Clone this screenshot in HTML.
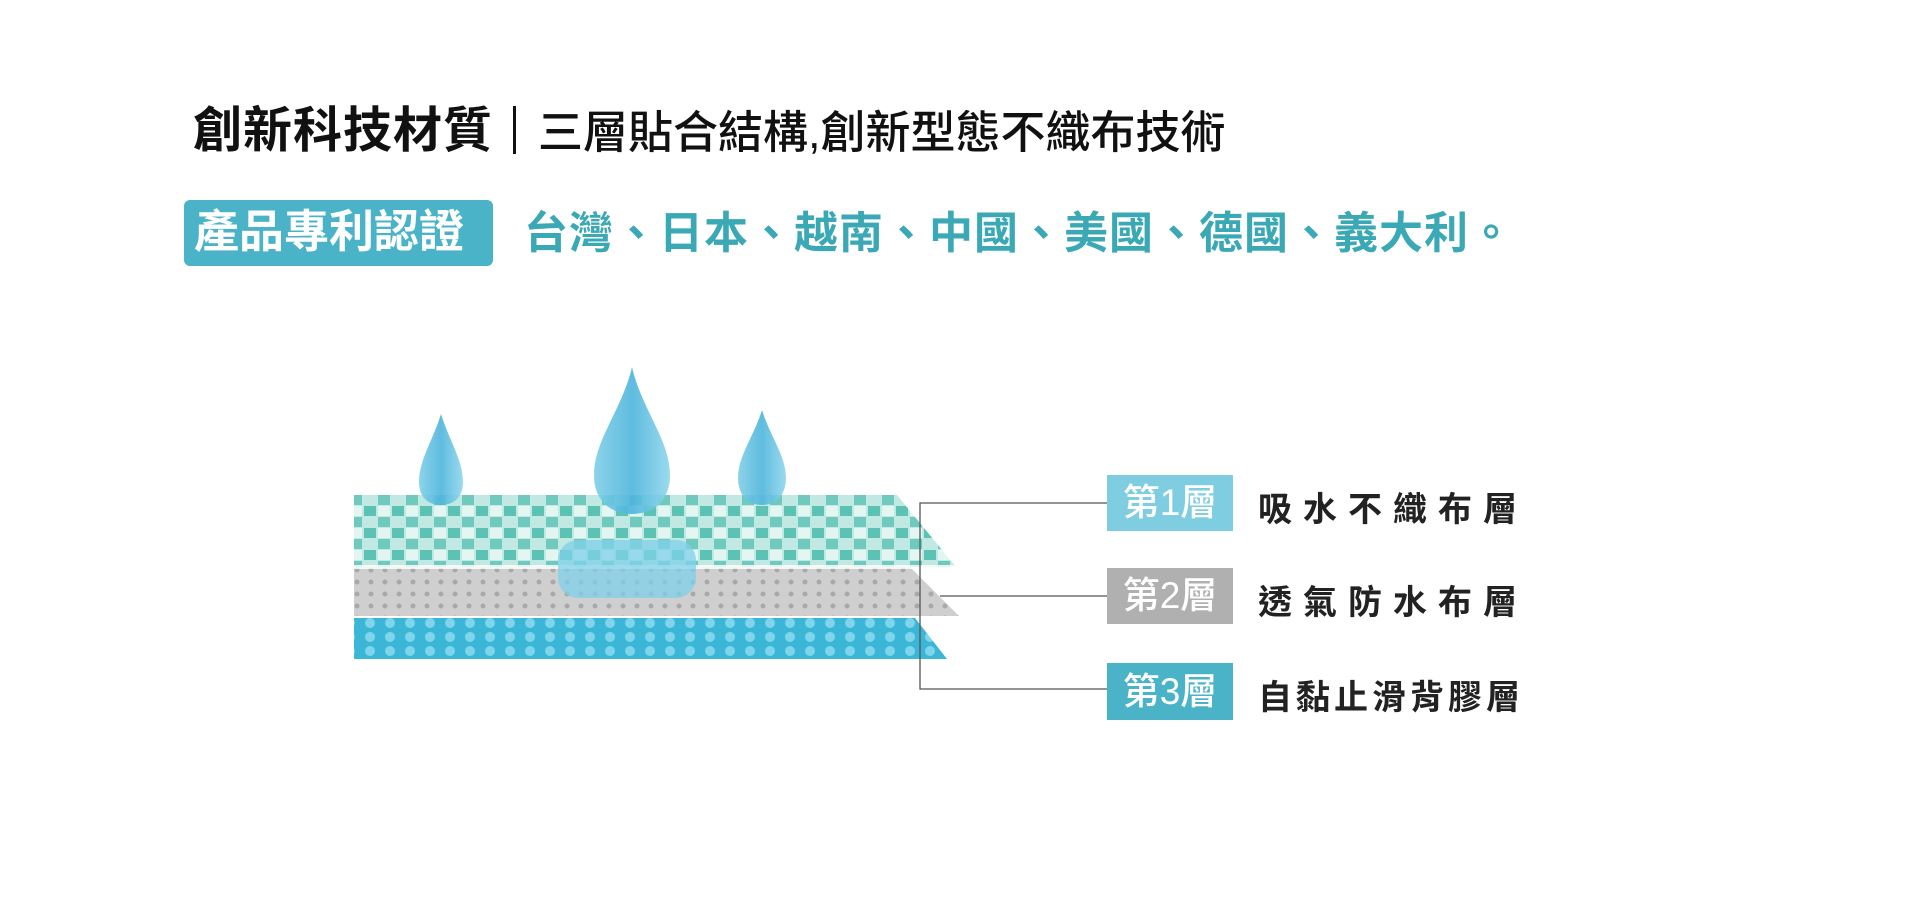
<!DOCTYPE html>
<html><head><meta charset="utf-8"><style>
body{margin:0;width:1920px;height:900px;background:#fff;position:relative;overflow:hidden;font-family:"Liberation Sans","Noto Sans CJK TC",sans-serif}
.a{position:absolute;white-space:nowrap}
.t1{left:193px;top:91px;font-size:49px;font-weight:bold;color:#111;letter-spacing:1px}
.t2{left:538px;top:96px;font-size:45px;color:#111;font-weight:500}
.bar{left:513px;top:106px;width:3px;height:48px;background:#111}
.badge{left:184px;top:200px;width:309px;height:66px;background:#4ab3c8;border-radius:6px;color:#fff;font-size:45px;font-weight:bold;line-height:64px;text-indent:10px}
.cty{left:524px;top:197px;font-size:44px;font-weight:bold;color:#3aa9b5;letter-spacing:1px}
.lb{left:1107px;width:126px;color:#fff;font-size:37px;font-weight:500;text-align:center}
.lt{left:1258px;font-size:34px;font-weight:bold;color:#222}
</style></head><body>
<div class="a t1">創新科技材質</div>
<div class="a bar"></div>
<div class="a t2">三層貼合結構,創新型態不織布技術</div>
<div class="a badge">產品專利認證</div>
<div class="a cty">台灣、日本、越南、中國、美國、德國、義大利。</div>
<svg class="a" style="left:0;top:0" width="1920" height="900">
<defs>
<pattern id="p1" width="28" height="22" patternUnits="userSpaceOnUse"><rect width="28" height="22" fill="#bfe9e2"/><rect x="0" y="0" width="12" height="10" fill="#5cc2b4"/><rect x="14" y="11" width="12" height="10" fill="#6fcabd"/><rect x="14" y="0" width="12" height="10" fill="#e4f6f2"/></pattern>
<pattern id="p2" width="14" height="12" patternUnits="userSpaceOnUse"><rect width="14" height="12" fill="#cfcfcf"/><circle cx="7" cy="6" r="2.5" fill="#a9a9a9"/></pattern>
<pattern id="p3" width="20" height="14" patternUnits="userSpaceOnUse"><rect width="20" height="14" fill="#3cb6d6"/><circle cx="10" cy="7" r="5" fill="#7fd5ea"/></pattern>
<linearGradient id="dg" x1="0" x2="1"><stop offset="0" stop-color="#7fcfe8"/><stop offset=".5" stop-color="#4db4dc"/><stop offset="1" stop-color="#8fd6ec"/></linearGradient>
</defs>
<polygon points="354,495 897,495 956,567 354,567" fill="url(#p1)"/>
<polygon points="354,567 910,567 959,616 354,616" fill="url(#p2)"/>
<rect x="354" y="565" width="605" height="4" fill="#fff" opacity=".8"/>
<polygon points="354,618 915,618 947,659 354,659" fill="url(#p3)"/>
<rect x="558" y="540" width="138" height="58" rx="20" fill="#7fd0ea" opacity=".75"/>
<path d="M441,414 C449,440 463,460 463,482 C463,498 453,505 441,505 C429,505 419,498 419,482 C419,460 433,440 441,414Z" fill="url(#dg)" opacity=".9"/>
<path d="M632,367 C642,410 670,440 670,475 C670,502 652,514 632,514 C612,514 594,502 594,475 C594,440 622,410 632,367Z" fill="url(#dg)" opacity=".9"/>
<path d="M762,410 C770,436 786,456 786,478 C786,496 775,505 762,505 C749,505 738,496 738,478 C738,456 754,436 762,410Z" fill="url(#dg)" opacity=".9"/>
<g stroke="#555" stroke-width="1.3" fill="none">
<polyline points="1107,503 920,503 920,689 1107,689"/>
<line x1="940" y1="596" x2="1107" y2="596"/>
</g>
</svg>
<div class="a lb" style="top:475px;height:56px;line-height:56px;background:#7ecde0">第1層</div>
<div class="a lb" style="top:568px;height:56px;line-height:56px;background:#b0b0b0">第2層</div>
<div class="a lb" style="top:663px;height:57px;line-height:57px;background:#4ab3c8">第3層</div>
<div class="a lt" style="top:482px;letter-spacing:11px">吸水不織布層</div>
<div class="a lt" style="top:575px;letter-spacing:11px">透氣防水布層</div>
<div class="a lt" style="top:670px;letter-spacing:4px">自黏止滑背膠層</div>
</body></html>
